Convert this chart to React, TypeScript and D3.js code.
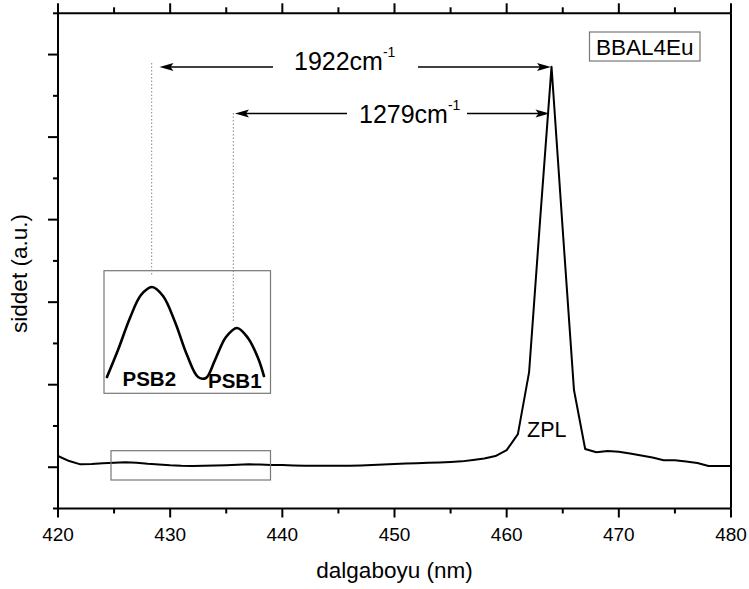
import React from "react";
import * as d3 from "d3";

const wavelengths = [
  420, 421, 422, 423, 424, 425, 426, 427, 428, 429, 430, 431, 432, 433, 434, 435,
  436, 437, 438, 439, 440, 441, 442, 443, 444, 445, 446, 447, 448, 449, 450, 451,
  452, 453, 454, 455, 456, 457, 458, 459, 460, 461, 462, 463, 464, 465, 466, 467,
  468, 469, 470, 471, 472, 473, 474, 475, 476, 477, 478, 479, 480,
];
const intensity = [
  0.136, 0.075, 0.035, 0.039, 0.047, 0.055, 0.059, 0.053, 0.041, 0.033, 0.023, 0.017,
  0.015, 0.017, 0.021, 0.024, 0.029, 0.036, 0.032, 0.027, 0.027, 0.021, 0.018, 0.017,
  0.017, 0.018, 0.018, 0.021, 0.027, 0.033, 0.039, 0.045, 0.048, 0.053, 0.057, 0.063,
  0.071, 0.087, 0.105, 0.136, 0.208, 0.402, 1.153, 3.031, 4.853, 2.874, 0.936, 0.221,
  0.181, 0.196, 0.188, 0.166, 0.142, 0.118, 0.084, 0.084, 0.069, 0.051, 0.015, 0.015,
  0.015,
];

// magnified inset (PSB region)
const insetWavelengths = [
  425.25, 426.18, 427.19, 428.12, 429.05, 429.98, 430.99, 432.0, 432.93, 433.6,
  434.36, 435.29, 436.22, 437.14, 437.99, 438.49,
];
const insetIntensity = [
  0.131, 0.352, 0.615, 0.803, 0.869, 0.795, 0.582, 0.311, 0.131, 0.123, 0.27, 0.459,
  0.533, 0.451, 0.287, 0.139,
];

const xMajorTicks = [420, 430, 440, 450, 460, 470, 480];
const xMinorTicks = [425, 435, 445, 455, 465, 475];
const yMajorTicks = [0, 1, 2, 3, 4, 5];
const yMinorTicks = [-0.5, 0.5, 1.5, 2.5, 3.5, 4.5, 5.5];

const FONT = "'Liberation Sans', Arial, Helvetica, sans-serif";

export default function App() {
  const W = 749;
  const H = 589;
  const L = 58, R = 731, T = 13.3, B = 508.5;
  const x = d3.scaleLinear().domain([420, 480]).range([L, R]);
  const y = d3.scaleLinear().domain([-0.5, 5.5]).range([B, T]);

  const line = d3
    .line<number>()
    .x((_, i) => x(wavelengths[i]))
    .y((d) => y(d))
    .curve(d3.curveLinear);

  // inset coordinate system
  const ix = d3.scaleLinear().domain([425, 439]).range([104, 270]);
  const iy = d3.scaleLinear().domain([0, 1]).range([393, 271]);
  const insetLine = d3
    .line<number>()
    .x((_, i) => ix(insetWavelengths[i]))
    .y((d) => iy(d))
    .curve(d3.curveCatmullRom.alpha(0.5));

  const sw = 2;
  const arrowL = (tx: number, ty: number) =>
    `M${tx},${ty}L${tx + 14},${ty - 4}L${tx + 11},${ty}L${tx + 14},${ty + 4}Z`;
  const arrowR = (tx: number, ty: number) =>
    `M${tx},${ty}L${tx - 14},${ty - 4}L${tx - 11},${ty}L${tx - 14},${ty + 4}Z`;

  const a1y = 67, a2y = 113.5;

  return (
    <svg
      width={W}
      height={H}
      style={{ position: "absolute", left: 0, top: 0, background: "#fff" }}
      fontFamily={FONT}
    >
      <rect x={0} y={0} width={W} height={H} fill="#fff" />

      {/* data curve */}
      <path d={line(intensity) || ""} fill="none" stroke="#000" strokeWidth={2} strokeLinejoin="round" />

      {/* small selection box */}
      <rect x={111} y={450.7} width={159.5} height={29.3} fill="none" stroke="#777" strokeWidth={1.2} />

      {/* inset box */}
      <rect x={104} y={270.7} width={166.5} height={122.6} fill="none" stroke="#777" strokeWidth={1.2} />
      <path d={insetLine(insetIntensity) || ""} fill="none" stroke="#000" strokeWidth={2.6} strokeLinecap="round" />
      <text x={122.5} y={386} fontSize={20.5} fontWeight="bold">PSB2</text>
      <text x={208} y={387.5} fontSize={20.5} fontWeight="bold">PSB1</text>

      {/* dotted guide lines */}
      <line x1={151.7} x2={151.7} y1={63} y2={275} stroke="#888" strokeWidth={1} strokeDasharray="1.5,2" />
      <line x1={233.3} x2={233.3} y1={113} y2={323} stroke="#888" strokeWidth={1} strokeDasharray="1.5,2" />

      {/* arrows 1922 */}
      <line x1={168} x2={273} y1={a1y} y2={a1y} stroke="#000" strokeWidth={1.6} />
      <path d={arrowL(159.5, a1y)} fill="#000" />
      <text x={294} y={70} fontSize={25}>
        1922cm<tspan fontSize={14} dy={-13}>-1</tspan>
      </text>
      <line x1={418} x2={542} y1={a1y} y2={a1y} stroke="#000" strokeWidth={1.6} />
      <path d={arrowR(551, a1y)} fill="#000" />

      {/* arrows 1279 */}
      <line x1={243} x2={347} y1={a2y} y2={a2y} stroke="#000" strokeWidth={1.6} />
      <path d={arrowL(235, a2y)} fill="#000" />
      <text x={359} y={122.5} fontSize={25}>
        1279cm<tspan fontSize={14} dy={-13}>-1</tspan>
      </text>
      <line x1={467} x2={541} y1={a2y} y2={a2y} stroke="#000" strokeWidth={1.6} />
      <path d={arrowR(549.5, a2y)} fill="#000" />

      {/* ZPL label */}
      <text x={527} y={437} fontSize={21.5}>ZPL</text>

      {/* legend box */}
      <rect x={589.5} y={32} width={110.5} height={29} fill="#fff" stroke="#777" strokeWidth={1.2} />
      <text x={644.7} y={55} fontSize={22.5} textAnchor="middle">BBAL4Eu</text>

      {/* axes frame */}
      <line x1={L} x2={L} y1={T} y2={B} stroke="#000" strokeWidth={sw} />
      <line x1={R} x2={R} y1={T} y2={B} stroke="#000" strokeWidth={sw} />
      <line x1={L} x2={R} y1={B} y2={B} stroke="#000" strokeWidth={sw} />
      <line x1={L} x2={R} y1={T} y2={T} stroke="#000" strokeWidth={sw} />

      {/* x ticks bottom & top */}
      {xMajorTicks.map((t) => (
        <g key={"xM" + t}>
          <line x1={x(t)} x2={x(t)} y1={B} y2={B + 9} stroke="#000" strokeWidth={sw} />
          <line x1={x(t)} x2={x(t)} y1={T} y2={T - 10} stroke="#000" strokeWidth={sw} />
          <text x={x(t)} y={541} fontSize={19} textAnchor="middle">{t}</text>
        </g>
      ))}
      {xMinorTicks.map((t) => (
        <g key={"xm" + t}>
          <line x1={x(t)} x2={x(t)} y1={B} y2={B + 5} stroke="#000" strokeWidth={sw} />
          <line x1={x(t)} x2={x(t)} y1={T} y2={T - 6} stroke="#000" strokeWidth={sw} />
        </g>
      ))}

      {/* y ticks left */}
      {yMajorTicks.map((t) => (
        <line key={"yM" + t} x1={L} x2={L - 10} y1={y(t)} y2={y(t)} stroke="#000" strokeWidth={sw} />
      ))}
      {yMinorTicks.map((t) => (
        <line key={"ym" + t} x1={L} x2={L - 5} y1={y(t)} y2={y(t)} stroke="#000" strokeWidth={sw} />
      ))}

      {/* axis titles */}
      <text x={(L + R) / 2} y={578} fontSize={22.5} textAnchor="middle">dalgaboyu (nm)</text>
      <text
        transform={`translate(27,${273.5}) rotate(-90)`}
        fontSize={22.5}
        textAnchor="middle"
      >
        siddet (a.u.)
      </text>
    </svg>
  );
}
